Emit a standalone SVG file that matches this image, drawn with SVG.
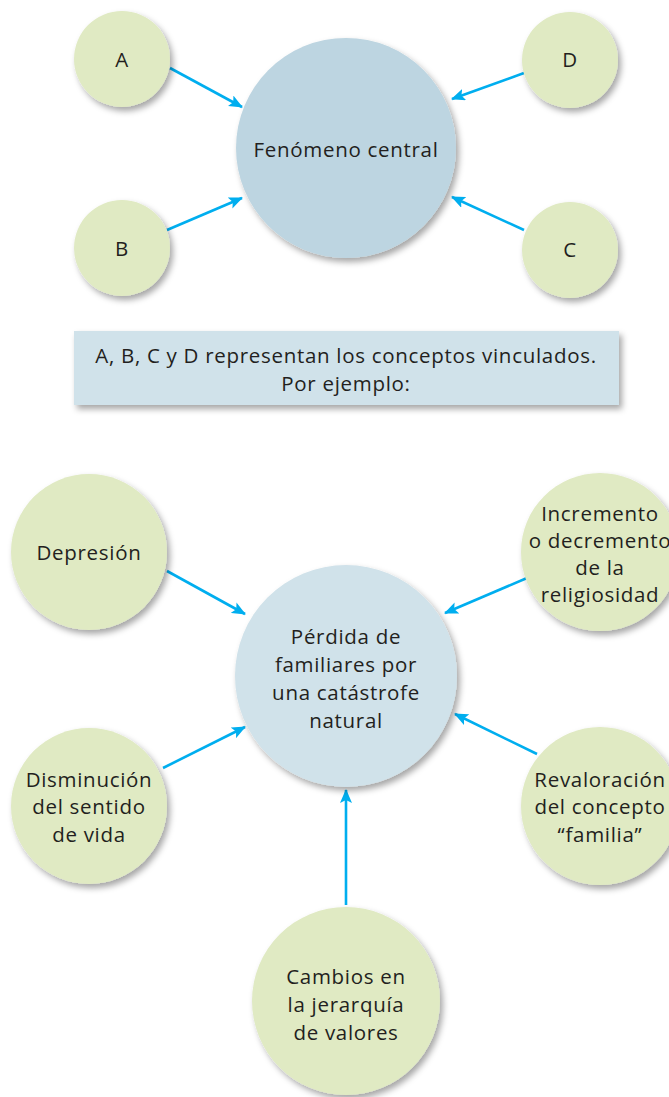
<svg xmlns="http://www.w3.org/2000/svg" width="669" height="1097" viewBox="0 0 669 1097">
<defs>
<filter id="sh" x="-20%" y="-20%" width="150%" height="150%">
<feDropShadow dx="3" dy="4" stdDeviation="3" flood-color="#000" flood-opacity="0.35"/>
</filter>
<marker id="ah" viewBox="0 0 14 12" refX="13" refY="6" markerWidth="14" markerHeight="12" markerUnits="userSpaceOnUse" orient="auto">
<path d="M0,0 L14,6 L0,12 L3,6 Z" fill="#00aeef"/>
</marker>
</defs>
<style>
.g{fill:#e0eac3;filter:url(#sh)}
.b1{fill:#bdd5e1;filter:url(#sh)}
.b2{fill:#d0e2ea;filter:url(#sh)}
.t{font-family:"Open Sans","Noto Sans",sans-serif;font-size:20.5px;letter-spacing:0.7px;fill:#231f20;text-anchor:middle}
.c{stroke:#00aeef;stroke-width:2.6;fill:none;marker-end:url(#ah)}
</style>
<rect width="669" height="1097" fill="#fff"/>
<g id="connectors">
<line class="c" x1="170" y1="68" x2="242" y2="107"/>
<line class="c" x1="524" y1="73" x2="452" y2="99"/>
<line class="c" x1="167" y1="230" x2="242" y2="198"/>
<line class="c" x1="524" y1="230" x2="452" y2="197"/>
<line class="c" x1="167" y1="571" x2="245" y2="614"/>
<line class="c" x1="527" y1="578" x2="445" y2="613"/>
<line class="c" x1="163" y1="768" x2="245" y2="727"/>
<line class="c" x1="537" y1="754" x2="455" y2="714"/>
<line class="c" x1="346" y1="905" x2="346" y2="790"/>
</g>
<g id="central-top"><circle class="b1" cx="346" cy="148" r="110"/><text class="t" x="346" y="157">Fenómeno central</text></g>
<g id="nodeA"><circle class="g" cx="122" cy="59" r="48"/><text class="t" x="122" y="67">A</text></g>
<g id="nodeD"><circle class="g" cx="570" cy="60" r="48"/><text class="t" x="570" y="67">D</text></g>
<g id="nodeB"><circle class="g" cx="122" cy="248" r="48"/><text class="t" x="122" y="256">B</text></g>
<g id="nodeC"><circle class="g" cx="570" cy="250" r="48"/><text class="t" x="570" y="257">C</text></g>
<g id="banner"><rect x="74" y="331" width="545" height="74" fill="#d0e2ea" filter="url(#sh)"/>
<text class="t" x="346" y="363">A, B, C y D representan los conceptos vinculados.</text>
<text class="t" x="346" y="391">Por ejemplo:</text></g>
<g id="central-bottom"><circle class="b2" cx="346" cy="676" r="111"/>
<text class="t" x="346" y="644">Pérdida de</text><text class="t" x="346" y="672">familiares por</text><text class="t" x="346" y="700">una catástrofe</text><text class="t" x="346" y="728">natural</text></g>
<g id="depresion"><circle class="g" cx="89" cy="552" r="78"/><text class="t" x="89" y="560">Depresión</text></g>
<g id="incremento"><circle class="g" cx="600" cy="552" r="79"/>
<text class="t" x="600" y="521">Incremento</text><text class="t" x="600" y="548">o decremento</text><text class="t" x="600" y="575">de la</text><text class="t" x="600" y="602">religiosidad</text></g>
<g id="disminucion"><circle class="g" cx="89" cy="806" r="78"/>
<text class="t" x="89" y="787">Disminución</text><text class="t" x="89" y="814">del sentido</text><text class="t" x="89" y="842">de vida</text></g>
<g id="revaloracion"><circle class="g" cx="600" cy="806" r="79"/>
<text class="t" x="600" y="787">Revaloración</text><text class="t" x="600" y="814">del concepto</text><text class="t" x="600" y="842">“familia”</text></g>
<g id="cambios"><circle class="g" cx="346" cy="1001" r="94"/>
<text class="t" x="346" y="984">Cambios en</text><text class="t" x="346" y="1012">la jerarquía</text><text class="t" x="346" y="1040">de valores</text></g>
</svg>
